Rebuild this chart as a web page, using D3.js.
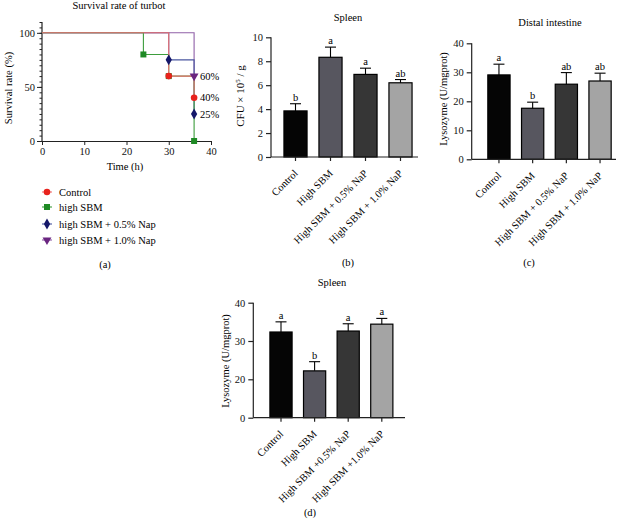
<!DOCTYPE html>
<html>
<head>
<meta charset="utf-8">
<script src="https://cdn.jsdelivr.net/npm/d3@7"></script>
<style>
  html, body { margin: 0; padding: 0; background: #fff; }
  svg { display: block; font-family: "Liberation Serif", "DejaVu Serif", serif; }
</style>
</head>
<body>
<svg id="chart" width="624" height="529"></svg>
<script>
// ---------- DATA ----------
// (a) survival curves: time (h) and survival (%) at each step
const survivalSeries = ["Control", "high SBM", "high SBM + 0.5% Nap", "high SBM + 1.0% Nap"];
const controlTimes = [0, 30, 36];
const controlSurvival = [100, 60, 40];
const highSBMTimes = [0, 24, 30, 36];
const highSBMSurvival = [100, 80, 60, 0];
const nap05Times = [0, 30, 36];
const nap05Survival = [100, 75, 25];
const nap10Times = [0, 36];
const nap10Survival = [100, 60];
const survivalEndLabels = ["60%", "40%", "25%"];
const survivalEndValues = [60, 40, 25];
const survivalXTicks = [0, 10, 20, 30, 40];
const survivalYTicks = [0, 50, 100];

// (b) spleen CFU
const categoriesBC = ["Control", "High SBM", "High SBM + 0.5% NaP", "High SBM + 1.0% NaP"];
const spleenCFU = [3.85, 8.33, 6.9, 6.2];
const spleenCFUErr = [0.6, 0.85, 0.52, 0.27];
const spleenCFULetters = ["b", "a", "a", "ab"];
const spleenCFUTicks = [0, 2, 4, 6, 8, 10];

// (c) distal intestine lysozyme
const distalLysozyme = [29.1, 17.6, 25.9, 27.0];
const distalLysozymeErr = [3.7, 2.1, 4.0, 2.7];
const distalLetters = ["a", "b", "ab", "ab"];
const distalTicks = [0, 10, 20, 30, 40];

// (d) spleen lysozyme
const categoriesD = ["Control", "High SBM", "High SBM +0.5% NaP", "High SBM +1.0% NaP"];
const spleenLysozyme = [32.35, 22.2, 32.6, 34.4];
const spleenLysozymeErr = [2.65, 2.4, 1.9, 1.5];
const spleenLysLetters = ["a", "b", "a", "a"];
const spleenLysTicks = [0, 20, 30, 40];

// ---------- STYLE ----------
const barFills = ["#050505", "#57565f", "#363636", "#a4a4a4"];
const survColors = {
  "Control": { line: "#f07272", mark: "#e8221c", shape: d3.symbolCircle, size: 34 },
  "high SBM": { line: "#3d9d3d", mark: "#1f8a25", shape: d3.symbolSquare, size: 36 },
  "high SBM + 0.5% Nap": { line: "#4a57a0", mark: "#15186a", shape: d3.symbolDiamond, size: 34 },
  "high SBM + 1.0% Nap": { line: "#9060a8", mark: "#6a2580", shape: d3.symbolTriangle, size: 34 }
};

const svg = d3.select("#chart");
const FS = 10.5;

// ---------- PANEL (a) ----------
(function () {
  const x = d3.scaleLinear().domain([0, 40]).range([42, 211]);
  const y = d3.scaleLinear().domain([0, 110]).range([141, 22]);
  const g = svg.append("g");

  g.append("text").attr("x", 119).attr("y", 9).attr("text-anchor", "middle")
    .attr("font-size", FS).text("Survival rate of turbot");

  // y axis with minor ticks
  const yAx = g.append("g").attr("transform", `translate(${x(0)},0)`);
  yAx.call(d3.axisLeft(y).tickValues(d3.range(0, 111, 5)).tickSize(2.5).tickFormat(""));
  yAx.call(sel => sel.select(".domain").remove());
  const yMaj = g.append("g").attr("transform", `translate(${x(0)},0)`)
    .call(d3.axisLeft(y).tickValues(survivalYTicks).tickSize(5).tickSizeOuter(0).tickPadding(2));
  yMaj.select(".domain").attr("d", `M0,${y(110)}V${y(0)}`);

  const xAx = g.append("g").attr("transform", `translate(0,${y(0)})`)
    .call(d3.axisBottom(x).tickValues(survivalXTicks).tickSize(4).tickSizeOuter(0).tickPadding(3));

  [yAx, yMaj, xAx].forEach(a => {
    a.selectAll("text").attr("font-size", FS).attr("font-family", "Liberation Serif").attr("fill", "#111");
    a.selectAll("line,path").attr("stroke", "#222");
  });
  yMaj.select(".domain").attr("stroke-width", 1.2);
  xAx.select(".domain").attr("stroke-width", 1.2);

  g.append("text").attr("transform", `translate(11.5,88) rotate(-90)`)
    .attr("text-anchor", "middle").attr("font-size", FS).text("Survival rate (%)");
  g.append("text").attr("x", 125).attr("y", 170).attr("text-anchor", "middle")
    .attr("font-size", FS).text("Time (h)");

  const series = [
    { name: survivalSeries[3], t: nap10Times, s: nap10Survival },
    { name: survivalSeries[2], t: nap05Times, s: nap05Survival },
    { name: survivalSeries[1], t: highSBMTimes, s: highSBMSurvival },
    { name: survivalSeries[0], t: controlTimes, s: controlSurvival }
  ];
  const line = d3.line().x(d => x(d[0])).y(d => y(d[1])).curve(d3.curveStepAfter);
  series.forEach(se => {
    const pts = se.t.map((t, i) => [t, se.s[i]]);
    g.append("path").attr("d", line(pts)).attr("fill", "none")
      .attr("stroke", survColors[se.name].line).attr("stroke-width", 1.1);
  });
  series.forEach(se => {
    const c = survColors[se.name];
    se.t.forEach((t, i) => {
      if (i === 0) return;
      const rot = c.shape === d3.symbolTriangle ? " rotate(180)" : "";
      g.append("path").attr("d", d3.symbol(c.shape, c.size)())
        .attr("transform", `translate(${x(t)},${y(se.s[i])})${rot}`)
        .attr("fill", c.mark);
    });
  });

  survivalEndLabels.forEach((lab, i) => {
    g.append("text").attr("x", 200).attr("y", y(survivalEndValues[i])).attr("dy", "0.35em")
      .attr("font-size", FS).text(lab);
  });

  // legend
  const ly = [192, 207, 224, 240];
  survivalSeries.forEach((name, i) => {
    const c = survColors[name];
    g.append("line").attr("x1", 42).attr("x2", 52).attr("y1", ly[i]).attr("y2", ly[i])
      .attr("stroke", c.line).attr("stroke-width", 1.1);
    const rot = c.shape === d3.symbolTriangle ? " rotate(180)" : "";
    g.append("path").attr("d", d3.symbol(c.shape, c.size)())
      .attr("transform", `translate(47,${ly[i]})${rot}`).attr("fill", c.mark);
    g.append("text").attr("x", 59).attr("y", ly[i]).attr("dy", "0.35em")
      .attr("font-size", FS).text(name);
  });

  g.append("text").attr("x", 105).attr("y", 268).attr("text-anchor", "middle")
    .attr("font-size", FS).text("(a)");
})();

// ---------- BAR PANEL HELPER ----------
function barPanel(o) {
  const g = svg.append("g");
  const x = d3.scaleBand().domain(o.cats).range(o.bandRange).paddingInner(0.34).paddingOuter(0.17);
  const y = o.yScale;
  const y0 = y(0);

  g.append("text").attr("x", o.titleX).attr("y", o.titleY).attr("text-anchor", "middle")
    .attr("font-size", FS).text(o.title);

  // bars
  o.cats.forEach((c, i) => {
    g.append("rect").attr("x", x(c)).attr("width", x.bandwidth())
      .attr("y", y(o.vals[i])).attr("height", y0 - y(o.vals[i]))
      .attr("fill", barFills[i]).attr("stroke", "#000").attr("stroke-width", 1.2);
    const cx = x(c) + x.bandwidth() / 2;
    const top = y(o.vals[i] + o.errs[i]);
    g.append("line").attr("x1", cx).attr("x2", cx).attr("y1", y(o.vals[i])).attr("y2", top)
      .attr("stroke", "#000").attr("stroke-width", 1.1);
    g.append("line").attr("x1", cx - 5.5).attr("x2", cx + 5.5).attr("y1", top).attr("y2", top)
      .attr("stroke", "#000").attr("stroke-width", 1.1);
    g.append("text").attr("x", cx).attr("y", top - 3).attr("text-anchor", "middle")
      .attr("font-size", FS).text(o.letters[i]);
  });

  // y axis
  const yAx = g.append("g").attr("transform", `translate(${o.axisX0},0)`)
    .call(d3.axisLeft(y).tickValues(o.ticks).tickSize(5).tickSizeOuter(0).tickPadding(3));
  yAx.select(".domain").attr("d", `M0,${y(o.ticks[o.ticks.length - 1])}V${y0}`);
  // x axis
  const xAx = g.append("g").attr("transform", `translate(0,${y0})`)
    .call(d3.axisBottom(x).tickSize(4).tickSizeOuter(0).tickFormat(""));
  xAx.select(".domain").attr("d", `M${o.axisX0},0H${o.axisX1}`);
  [yAx, xAx].forEach(a => {
    a.selectAll("text").attr("font-size", FS).attr("font-family", "Liberation Serif").attr("fill", "#111");
    a.selectAll("line,path").attr("stroke", "#222").attr("stroke-width", 1.2);
  });

  // rotated category labels
  o.cats.forEach(c => {
    const cx = x(c) + x.bandwidth() / 2;
    g.append("text").attr("transform", `translate(${cx + 3},${y0 + 17}) rotate(-45)`)
      .attr("text-anchor", "end").attr("font-size", FS).text(c);
  });

  // y label
  const yl = g.append("text").attr("transform", `translate(${o.ylabelX},${o.ylabelY}) rotate(-90)`)
    .attr("text-anchor", "middle").attr("font-size", o.ylabelSize || FS);
  if (o.ylabelParts) {
    yl.append("tspan").text(o.ylabelParts[0]);
    yl.append("tspan").attr("font-size", 7).attr("dy", -4).text(o.ylabelParts[1]);
    yl.append("tspan").attr("dy", 4).text(o.ylabelParts[2]);
  } else {
    yl.text(o.ylabel);
  }

  g.append("text").attr("x", o.panelX).attr("y", o.panelY).attr("text-anchor", "middle")
    .attr("font-size", FS).text(o.panel);
}

// (b)
barPanel({
  cats: categoriesBC, vals: spleenCFU, errs: spleenCFUErr, letters: spleenCFULetters,
  yScale: d3.scaleLinear().domain([0, 10]).range([157, 37.3]), ticks: spleenCFUTicks,
  axisX0: 271, axisX1: 418, bandRange: [278, 418],
  title: "Spleen", titleX: 348, titleY: 21,
  ylabelParts: ["CFU × 10", "5", " / g"], ylabelSize: 11, ylabelX: 243.5, ylabelY: 96,
  panel: "(b)", panelX: 348, panelY: 266
});

// (c)
barPanel({
  cats: categoriesBC, vals: distalLysozyme, errs: distalLysozymeErr, letters: distalLetters,
  yScale: d3.scaleLinear().domain([0, 40]).range([159.3, 43.3]), ticks: distalTicks,
  axisX0: 471.7, axisX1: 616, bandRange: [482.1, 616.9],
  title: "Distal intestine", titleX: 550, titleY: 26,
  ylabel: "Lysozyme (U/mgprot)", ylabelX: 446.5, ylabelY: 99,
  panel: "(c)", panelX: 529, panelY: 266
});

// (d) — axis as drawn in the source: 0, then 20–40
barPanel({
  cats: categoriesD, vals: spleenLysozyme, errs: spleenLysozymeErr, letters: spleenLysLetters,
  yScale: d3.scaleLinear().domain([0, 20, 40]).range([417.7, 379.3, 302.7]), ticks: spleenLysTicks,
  axisX0: 253.3, axisX1: 405, bandRange: [264.2, 398.6],
  title: "Spleen", titleX: 332, titleY: 286,
  ylabel: "Lysozyme (U/mgprot)", ylabelX: 228.5, ylabelY: 361,
  panel: "(d)", panelX: 310, panelY: 516
});
</script>
</body>
</html>
